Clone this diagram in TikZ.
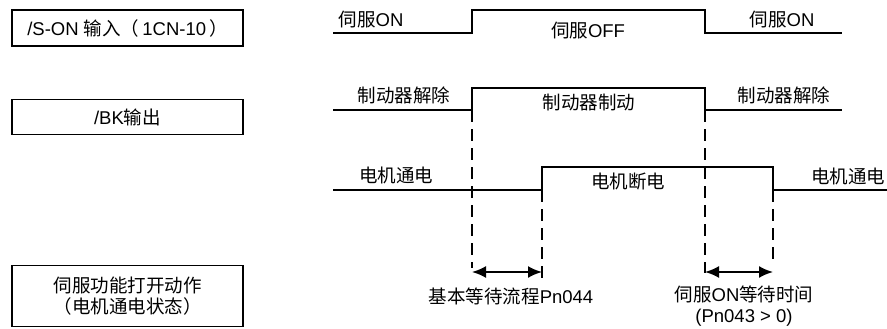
\documentclass[tikz,border=0pt]{standalone}
\usepackage{fontspec}
\setmainfont{Liberation Sans}
\newfontfamily\cjk{Noto Sans CJK SC}
\newcommand{\zh}[1]{{\cjk #1}}
\usetikzlibrary{arrows.meta}

\begin{document}
\begin{tikzpicture}[x=1pt, y=-1pt,
  box/.style = {draw, line width=1.8pt, minimum width=231pt, inner sep=0pt, align=center, font=\fontsize{18.5}{21}\selectfont},
  wave/.style = {line width=2pt},
  guide/.style = {line width=2pt, dash pattern=on 12pt off 7pt},
  span/.style = {line width=2pt, {Latex[length=14pt,width=12pt]}-{Latex[length=14pt,width=12pt]}},
  lbl/.style = {inner sep=0pt, align=center, font=\fontsize{18.5}{21}\selectfont}]
\useasboundingbox (0,0) rectangle (887,329);

% signal names
\node[box, minimum height=36pt] (son) at (127.5,28) {/S-ON \zh{输入（}\,1CN-10\,\zh{）}};
\node[box, minimum height=35pt] (bk) at (127.5,117) {/BK\zh{输出}};
\node[box, minimum height=61pt] (motor) at (127.5,296) {\zh{伺服功能打开动作}\\\zh{（电机通电状态）}};

% /S-ON waveform
\coordinate (s0) at (333,33);
\coordinate (s1) at (472,33);
\coordinate (s2) at (472,10);
\coordinate (s3) at (705,10);
\coordinate (s4) at (705,33);
\coordinate (s5) at (842,33);
\draw[wave] (s0) -- (s1) -- (s2) -- (s3) -- (s4) -- (s5);
\node[lbl] (son-l) at (371,20) {\zh{伺服}ON};
\node[lbl] (son-m) at (588,31) {\zh{伺服}OFF};
\node[lbl] (son-r) at (782,20) {\zh{伺服}ON};

% /BK waveform
\coordinate (b0) at (333,110);
\coordinate (b1) at (472,110);
\coordinate (b2) at (472,88);
\coordinate (b3) at (705,88);
\coordinate (b4) at (705,110);
\coordinate (b5) at (842,110);
\draw[wave] (b0) -- (b1) -- (b2) -- (b3) -- (b4) -- (b5);
\node[lbl] (bk-l) at (404,95) {\zh{制动器解除}};
\node[lbl] (bk-m) at (589,103) {\zh{制动器制动}};
\node[lbl] (bk-r) at (784,95) {\zh{制动器解除}};

% motor waveform
\coordinate (m0) at (333,190);
\coordinate (m1) at (542,190);
\coordinate (m2) at (542,167);
\coordinate (m3) at (773,167);
\coordinate (m4) at (773,190);
\coordinate (m5) at (887,190);
\draw[wave] (m0) -- (m1) -- (m2) -- (m3) -- (m4) -- (m5);
\node[lbl] (mo-l) at (396,175) {\zh{电机通电}};
\node[lbl] (mo-m) at (628,181) {\zh{电机断电}};
\node[lbl] (mo-r) at (848,176) {\zh{电机通电}};

% timing guides
\coordinate (g1) at (472,268);
\coordinate (g2) at (542,280);
\coordinate (g3) at (705,273);
\coordinate (g4) at (773,263);
\draw[guide] (b1) -- (g1);
\draw[guide] (m1) -- (g2);
\draw[guide] (b4) -- (g3);
\draw[guide] (m4) -- (g4);

% waiting times
\coordinate (a1) at (472,272);
\coordinate (a2) at (542,272);
\coordinate (a3) at (705,272);
\coordinate (a4) at (773,272);
\draw[span] (a1) -- (a2);
\draw[span] (a3) -- (a4);
\node[lbl] (t1) at (511,296) {\zh{基本等待流程}Pn044};
\node[lbl] (t2) at (744,306) {\zh{伺服}ON\zh{等待时间}\\(Pn043 {\textgreater} 0)};
\end{tikzpicture}
\end{document}
